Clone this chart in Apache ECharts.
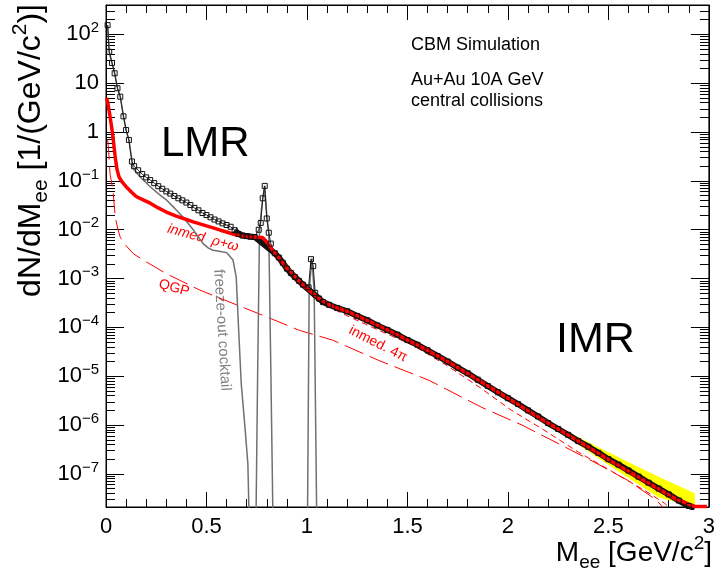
<!DOCTYPE html>
<html><head><meta charset="utf-8">
<script src="https://cdn.jsdelivr.net/npm/echarts@6/dist/echarts.min.js"></script>
<style>html,body{margin:0;padding:0;background:#fff}#c{width:718px;height:581px}</style>
</head><body><div id="c"></div>
<script>
const FONT = '"Liberation Sans", Arial, Helvetica, sans-serif';
const Y_MIN = 2.1e-8, Y_MAX = 400;
const X_MIN = 0, X_MAX = 3;

// x tick values (labels shown as numbers)
const xTicks = [0, 0.5, 1, 1.5, 2, 2.5, 3];
// y decades and their labels
const yDecades = [1e-7, 1e-6, 1e-5, 1e-4, 1e-3, 1e-2, 1e-1, 1, 10, 100];
const yTickLabels = ['10^{−7}','10^{−6}','10^{−5}','10^{−4}','10^{−3}','10^{−2}','10^{−1}','1','10','10^{2}'];

// black data points (simulated spectrum)
const dataX = [0.008,0.016,0.03,0.043,0.057,0.071,0.087,0.10,0.114,0.129,0.14,0.16,0.18,0.20,0.22,0.24,0.26,0.28,0.30,0.32,0.34,0.36,0.38,0.40,0.42,0.44,0.46,0.48,0.50,0.52,0.54,0.56,0.58,0.60,0.62,0.64,0.66,0.68,0.70,0.72,0.74,0.76,0.77,0.78,0.79,0.80,0.81,0.82,0.84,0.86,0.88,0.90,0.92,0.94,0.96,0.98,1.008,1.02,1.031,1.041,1.06,1.08,1.11,1.15,1.2,1.25,1.3,1.35,1.4,1.45,1.5,1.55,1.6,1.65,1.7,1.75,1.8,1.85,1.9,1.95,2.0,2.05,2.1,2.15,2.2,2.25,2.3,2.35,2.4,2.45,2.5,2.55,2.6,2.65,2.7,2.75,2.8,2.85,2.9,2.93];
const dataY = [155,44,26,16,7.9,5.3,2.1,1.1,0.69,0.25,0.2,0.165,0.138,0.118,0.104,0.09,0.078,0.069,0.061,0.055,0.049,0.044,0.04,0.036,0.032,0.028,0.025,0.022,0.02,0.018,0.0162,0.0148,0.0135,0.0125,0.0115,0.0098,0.0082,0.0076,0.0074,0.0072,0.0071,0.0100,0.0138,0.044,0.079,0.017,0.0087,0.0052,0.0033,0.0027,0.0021,0.0016,0.0013,0.00108,0.0009,0.00075,0.00066,0.0025,0.0018,0.00051,0.00039,0.00033,0.00029,0.00025,0.000214,0.000172,0.00014,0.00011,0.000089,0.000071,0.000055,0.000044,0.000034,0.000026,0.00002,0.000015,0.0000115,8.5e-6,6.3e-6,4.7e-6,3.55e-6,2.7e-6,2.0e-6,1.5e-6,1.1e-6,8.3e-7,6.3e-7,4.7e-7,3.6e-7,2.7e-7,2.0e-7,1.55e-7,1.17e-7,8.8e-8,6.6e-8,5.0e-8,3.8e-8,2.85e-8,2.2e-8,2.0e-8];

// red thick: sum of model contributions
const sumX = [0.003,0.01,0.02,0.03,0.038,0.046,0.055,0.065,0.08,0.10,0.125,0.15,0.19,0.22,0.26,0.30,0.35,0.40,0.434,0.50,0.566,0.60,0.648,0.70,0.75,0.78,0.80,0.83,0.863,0.896,0.93,0.962,1.0,1.03,1.06,1.11,1.15,1.2,1.275,1.36,1.44,1.52,1.606,1.7,1.85,2.0,2.18,2.35,2.51,2.68,2.84,2.93,2.99];
const sumY = [5.0,3.8,2.1,1.1,0.6,0.3,0.17,0.12,0.095,0.076,0.06,0.048,0.04,0.035,0.028,0.023,0.019,0.0162,0.0145,0.012,0.0099,0.009,0.0078,0.0072,0.007,0.0069,0.0056,0.0038,0.0026,0.0017,0.00125,0.00088,0.00063,0.0005,0.00039,0.00029,0.00025,0.000214,0.000155,0.000107,0.000074,0.00005,0.000033,0.00002,8.5e-6,3.55e-6,1.23e-6,4.7e-7,1.86e-7,7.2e-8,3.0e-8,2.15e-8,2.15e-8];

// grey: freeze-out cocktail
const cocktailX = [0.008,0.016,0.03,0.043,0.057,0.071,0.087,0.10,0.114,0.129,0.135,0.17,0.22,0.26,0.30,0.34,0.384,0.434,0.483,0.51,0.533,0.57,0.60,0.632,0.648,0.657,0.673,0.69,0.706,0.711,0.72,0.74,0.747,0.755,0.764,0.775,0.789,0.80,0.81,0.82,0.83,0.84,0.99,1.003,1.011,1.025,1.036,1.048,1.06];
const cocktailY = [155,44,26,16,7.9,5.3,2.1,1.1,0.69,0.25,0.18,0.12,0.076,0.055,0.041,0.028,0.018,0.01,0.0052,0.0042,0.0038,0.0036,0.0034,0.0024,0.00107,1.66e-4,7e-6,1.07e-6,1.6e-7,2e-8,1e-9,1e-9,2e-8,1.6e-5,0.01,0.03,0.079,0.02,0.0085,1.6e-5,2e-8,1e-9,1e-9,2e-8,5.8e-4,0.0026,5e-4,2e-8,1e-9];

// QGP (long dashed)
const qgpX = [0.008,0.013,0.02,0.035,0.046,0.06,0.071,0.10,0.137,0.2,0.30,0.467,0.632,0.797,0.962,1.127,1.358,1.606,1.87,2.07,2.265,2.43,2.596,2.74,2.8];
const qgpY = [0.7,0.43,0.14,0.063,0.018,0.01,0.007,0.0047,0.0032,0.0022,0.00126,0.00058,0.00031,0.000166,0.000087,0.000055,0.000021,8.3e-6,2.3e-6,1.0e-6,3.9e-7,1.74e-7,7.4e-8,2.9e-8,1.5e-8];

// in-medium 4pi (short dashed)
const inmedX = [0.98,1.045,1.193,1.358,1.523,1.688,1.85,2.018,2.18,2.35,2.51,2.68,2.78,2.84];
const inmedY = [0.00068,0.00036,0.000178,0.000087,0.000044,0.0000174,6.3e-6,2.0e-6,7.9e-7,2.8e-7,1.17e-7,4.6e-8,2.5e-8,1.5e-8];

// yellow uncertainty band
const bandX = [2.1,2.15,2.3,2.45,2.6,2.75,2.93];
const bandLow = [1.95e-6,1.4e-6,5.5e-7,2.1e-7,8.2e-8,3.3e-8,1.26e-8];
const bandHigh = [2.05e-6,1.6e-6,7.2e-7,3.5e-7,1.74e-7,8.7e-8,4.0e-8];

const L = Math.log10;
const pairs = (xs, ys) => xs.map((x, i) => [x, L(ys[i])]);
const minorVals = [];
for (let k = -8; k <= 2; k++) for (let m = 2; m <= 9; m++) {
  const v = L(m * Math.pow(10, k));
  if (v > L(Y_MIN) && v < L(Y_MAX)) minorVals.push(v);
}
const decadeVals = yDecades.map(L);
const labelMap = {};
yDecades.forEach((d, i) => { labelMap[Math.round(L(d))] = yTickLabels[i]; });
function richLabel(s) {
  const m = s.match(/^(.*)\^\{(.*)\}$/);
  return m ? '{b|' + m[1] + '}{e|' + m[2] + '}' : '{b|' + s + '}';
}

const chart = echarts.init(document.getElementById('c'), null, {renderer: 'canvas'});
const yBase = {type: 'value', min: L(Y_MIN), max: L(Y_MAX), splitLine: {show: false}};
const black = '#000';
const option = {
  animation: false,
  grid: {left: 106, right: 6, top: 5, bottom: 74, show: true, borderColor: black, borderWidth: 1},
  xAxis: [
    {type: 'value', min: X_MIN, max: X_MAX, interval: 0.5, position: 'bottom',
     axisLine: {show: true, onZero: false, lineStyle: {color: black, width: 1}},
     axisTick: {show: true, inside: true, length: 15, lineStyle: {color: black}},
     minorTick: {show: true, splitNumber: 5, length: 8, lineStyle: {color: black}},
     splitLine: {show: false},
     axisLabel: {margin: 9, fontSize: 22, fontFamily: FONT, color: black,
       customValues: xTicks, formatter: v => String(v)}},
    {type: 'value', min: X_MIN, max: X_MAX, interval: 0.5, position: 'top',
     axisLine: {show: true, onZero: false, lineStyle: {color: black, width: 1}},
     axisTick: {show: true, inside: true, length: 15, lineStyle: {color: black}},
     minorTick: {show: true, splitNumber: 5, length: 8, lineStyle: {color: black}},
     splitLine: {show: false}, axisLabel: {show: false}}
  ],
  yAxis: [
    Object.assign({}, yBase, {position: 'left',
      axisLine: {show: true, onZero: false, lineStyle: {color: black}},
      axisTick: {show: true, inside: true, length: 18, customValues: decadeVals, lineStyle: {color: black}},
      axisLabel: {margin: 7, customValues: decadeVals,
        formatter: v => richLabel(labelMap[Math.round(v)] || ''),
        rich: {
          b: {fontSize: 22, fontFamily: FONT, color: black, lineHeight: 28},
          e: {fontSize: 15, fontFamily: FONT, color: black, lineHeight: 15, verticalAlign: 'top'}
        }}}),
    Object.assign({}, yBase, {position: 'right',
      axisLine: {show: true, onZero: false, lineStyle: {color: black}},
      axisTick: {show: true, inside: true, length: 18, customValues: decadeVals, lineStyle: {color: black}},
      axisLabel: {show: false}}),
    Object.assign({}, yBase, {position: 'left',
      axisLine: {show: false, onZero: false},
      axisTick: {show: true, inside: true, length: 9, customValues: minorVals, lineStyle: {color: black}},
      axisLabel: {show: false}}),
    Object.assign({}, yBase, {position: 'right',
      axisLine: {show: false, onZero: false},
      axisTick: {show: true, inside: true, length: 9, customValues: minorVals, lineStyle: {color: black}},
      axisLabel: {show: false}})
  ],
  series: [
    {type: 'custom', name: 'band', coordinateSystem: 'cartesian2d', clip: true,
     data: [[bandX[0], L(bandHigh[0])]],
     renderItem: (params, api) => {
       const up = bandX.map((x, i) => api.coord([x, L(bandHigh[i])]));
       const lo = bandX.map((x, i) => api.coord([x, L(bandLow[i])])).reverse();
       const cs = params.coordSys;
       const pts = echarts.graphic.clipPointsByRect(up.concat(lo), {x: cs.x, y: cs.y, width: cs.width, height: cs.height});
       return {type: 'polygon', shape: {points: pts}, style: {fill: '#ffff00', stroke: 'none'}};
     }},
    {type: 'line', name: 'QGP', data: pairs(qgpX, qgpY), showSymbol: false, clip: true,
     lineStyle: {color: '#ff0000', width: 1, type: [20, 7]}},
    {type: 'line', name: 'inmed 4pi', data: pairs(inmedX, inmedY), showSymbol: false, clip: true,
     lineStyle: {color: '#ff0000', width: 1, type: [6, 4]}},
    {type: 'line', name: 'cocktail', data: pairs(cocktailX, cocktailY), showSymbol: false, clip: true,
     lineStyle: {color: '#707070', width: 1.5}},
    {type: 'line', name: 'data-dense', data: pairs(dataX, dataY).filter(p => p[0] >= 0.64 && !(p[0] > 0.75 && p[0] < 0.83) && !(p[0] > 1.0 && p[0] < 1.05)),
     showSymbol: false, clip: true, lineStyle: {color: '#111', width: 6}},
    {type: 'line', name: 'data', data: pairs(dataX, dataY), clip: true,
     symbol: 'rect', symbolSize: 5, showAllSymbol: true,
     itemStyle: {color: 'rgba(255,255,255,0)', borderColor: '#111', borderWidth: 1},
     lineStyle: {color: '#222', width: 1}},
    {type: 'line', name: 'sum', data: pairs(sumX, sumY), showSymbol: false, clip: true,
     lineStyle: {color: '#ff0000', width: 3.5}}
  ],
  graphic: [
    {type: 'text', x: 31, y: 4, rotation: Math.PI / 2, style: {
      text: '{m|dN/dM}{s|ee}{m| [1/(GeV/c}{p|2}{m|)]}', align: 'right', verticalAlign: 'middle',
      rich: {
        m: {fontSize: 32, fontFamily: FONT, fill: black, lineHeight: 42},
        s: {fontSize: 21, fontFamily: FONT, fill: black, lineHeight: 21, verticalAlign: 'bottom'},
        p: {fontSize: 21, fontFamily: FONT, fill: black, lineHeight: 21, verticalAlign: 'top'}
      }}},
    {type: 'text', x: 712, y: 553, style: {
      text: '{m|M}{s|ee}{m| [GeV/c}{p|2}{m|]}', align: 'right', verticalAlign: 'middle',
      rich: {
        m: {fontSize: 28, fontFamily: FONT, fill: black, lineHeight: 38},
        s: {fontSize: 19, fontFamily: FONT, fill: black, lineHeight: 19, verticalAlign: 'bottom'},
        p: {fontSize: 19, fontFamily: FONT, fill: black, lineHeight: 19, verticalAlign: 'top'}
      }}},
    {type: 'text', x: 161, y: 144, style: {text: 'LMR', font: '42px ' + FONT, fill: black, align: 'left', verticalAlign: 'middle'}},
    {type: 'text', x: 556, y: 340, style: {text: 'IMR', font: '43px ' + FONT, fill: black, align: 'left', verticalAlign: 'middle'}},
    {type: 'text', x: 411, y: 45, style: {text: 'CBM Simulation', font: '18px ' + FONT, fill: black, align: 'left', verticalAlign: 'middle'}},
    {type: 'text', x: 411, y: 80, style: {text: 'Au+Au 10A GeV', font: '18px ' + FONT, fill: black, align: 'left', verticalAlign: 'middle'}},
    {type: 'text', x: 411, y: 101, style: {text: 'central collisions', font: '18px ' + FONT, fill: black, align: 'left', verticalAlign: 'middle'}},
    {type: 'text', x: 203, y: 238, rotation: -0.257, style: {text: 'inmed  ρ+ω', font: 'italic 14px ' + FONT, fill: '#ff0000', align: 'center', verticalAlign: 'middle'}},
    {type: 'text', x: 174, y: 288, rotation: -0.27, style: {text: 'QGP', font: '14px ' + FONT, fill: '#ff0000', align: 'center', verticalAlign: 'middle'}},
    {type: 'text', x: 222, y: 330, rotation: -1.513, style: {text: 'freeze-out cocktail', font: '15px ' + FONT, fill: '#808080', align: 'center', verticalAlign: 'middle'}},
    {type: 'text', x: 378, y: 344, rotation: -0.47, style: {text: 'inmed. 4π', font: '14px ' + FONT, fill: '#ff0000', align: 'center', verticalAlign: 'middle'}}
  ]
};
chart.setOption(option);
</script></body></html>
